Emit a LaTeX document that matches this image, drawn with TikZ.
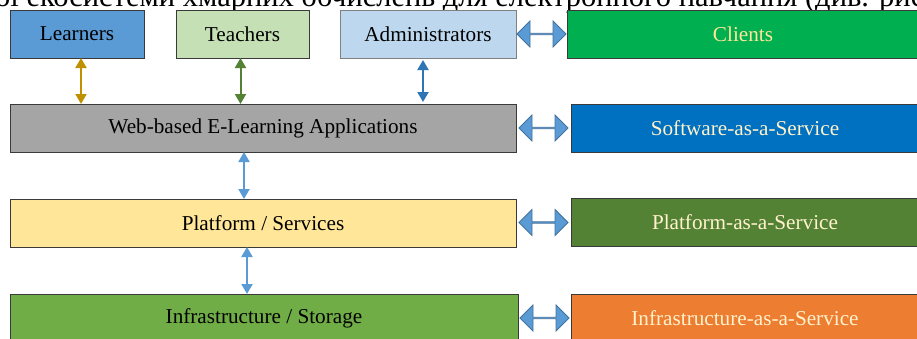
\documentclass[tikz,border=0pt]{standalone}
\usepackage{fontspec}
\setmainfont{Liberation Serif}
\usetikzlibrary{arrows.meta}
\usetikzlibrary{shapes.arrows}
\usetikzlibrary{calc}
\usetikzlibrary{positioning}

\definecolor{boxline}{HTML}{3A3A3A}
\definecolor{cream}{HTML}{FFF2CC}
\definecolor{fatfill}{HTML}{5B9BD5}
\definecolor{fatline}{HTML}{41719C}
\definecolor{learnfill}{HTML}{5B9BD5}
\definecolor{teachfill}{HTML}{C5E0B4}
\definecolor{adminfill}{HTML}{BDD7EE}
\definecolor{webfill}{HTML}{A5A5A5}
\definecolor{platfill}{HTML}{FFE699}
\definecolor{infrafill}{HTML}{70AD47}
\definecolor{clientfill}{HTML}{00B050}
\definecolor{saasfill}{HTML}{0070C0}
\definecolor{paasfill}{HTML}{548235}
\definecolor{iaasfill}{HTML}{ED7D31}
\definecolor{goldlink}{HTML}{BF9000}
\definecolor{greenlink}{HTML}{548235}
\definecolor{bluelink}{HTML}{2E75B6}
\definecolor{skylink}{HTML}{5B9BD5}
\tikzset{
  box/.style={draw=boxline, line width=0.8pt, minimum height=48pt,
    inner sep=0pt, outer sep=0pt, font=\fontsize{21.2}{25}\selectfont},
  layer/.style={box, minimum width=506pt},
  model/.style={box, minimum width=348pt, anchor=west, text=cream},
  link/.style={line width=2pt,
    {Triangle[width=11pt,length=10pt]}-{Triangle[width=11pt,length=10pt]}},
  fatlink/.style={double arrow, fill=fatfill, draw=fatline, line width=0.8pt,
    minimum height=49pt, minimum width=26pt, double arrow head extend=7pt,
    inner sep=0pt}
}

\begin{document}
\begin{tikzpicture}[x=1pt, y=-1pt, node distance=32pt]

    \useasboundingbox (0,0) rectangle (917,338);
    \clip (0,0) rectangle (917,338);

    % cut-off line of the page text above the figure
    \node[anchor=base west, inner sep=0pt, font=\fontsize{30.5}{32}\selectfont]
      (PageLine) at (-5,6) {ої екосистеми хмарних обчислень для електронного навчання (див. рис.};

    % users
    \node[box, fill=learnfill, minimum width=134pt]
      (Learners) at (77,34) {Learners};
    \node[box, fill=teachfill, minimum width=133pt]
      (Teachers) [right=32pt of Learners] {Teachers};
    \node[box, fill=adminfill, draw=gray, minimum width=176pt]
      (Admins) [right=31pt of Teachers] {Administrators};

    % layers
    \node[layer, fill=webfill]
      (WebApps) at (263,128) {Web-based E-Learning Applications};
    \node[layer, fill=platfill]
      (Platform) at (263,223) {Platform / Services};
    \node[layer, fill=infrafill, minimum width=508pt]
      (Infra) at (264,318) {Infrastructure / Storage};

    % cloud models
    \node[model, fill=clientfill, text=platfill, minimum width=352pt]
      (Clients) at (567,34) {Clients};
    \node[model, fill=saasfill]
      (SaaS) at (571,128) {Software-as-a-Service};
    \node[model, fill=paasfill]
      (PaaS) at (571,222) {Platform-as-a-Service};
    \node[model, fill=iaasfill]
      (IaaS) at (571,318) {Infrastructure-as-a-Service};

    % fat links to the models
    \node[fatlink] (ClientsLink) at ($(Admins.east)!0.5!(Clients.west)$) {};
    \node[fatlink] (SaaSLink) at ($(WebApps.east)!0.5!(SaaS.west)$) {};
    \node[fatlink] (PaaSLink) at ($(Platform.east)!0.5!(PaaS.west)$) {};
    \node[fatlink] (IaaSLink) at ($(Infra.east)!0.5!(IaaS.west)$) {};

    % thin links
    \draw[link, goldlink]
      ([xshift=4pt]Learners.south) -- ([xshift=4pt]Learners.south |- WebApps.north);
    \draw[link, greenlink]
      ([xshift=-2pt]Teachers.south) -- ([xshift=-2pt]Teachers.south |- WebApps.north);
    \draw[link, bluelink]
      ([xshift=-5pt,yshift=-2pt]Admins.south) -- ([xshift=-5pt,yshift=2pt]Admins.south |- WebApps.north);
    \draw[link, skylink]
      ([xshift=-19pt]WebApps.south) -- ([xshift=-19pt]WebApps.south |- Platform.north);
    \draw[link, skylink]
      ([xshift=-16pt]Platform.south) -- ([xshift=-16pt]Platform.south |- Infra.north);

  \end{tikzpicture}
\end{document}
